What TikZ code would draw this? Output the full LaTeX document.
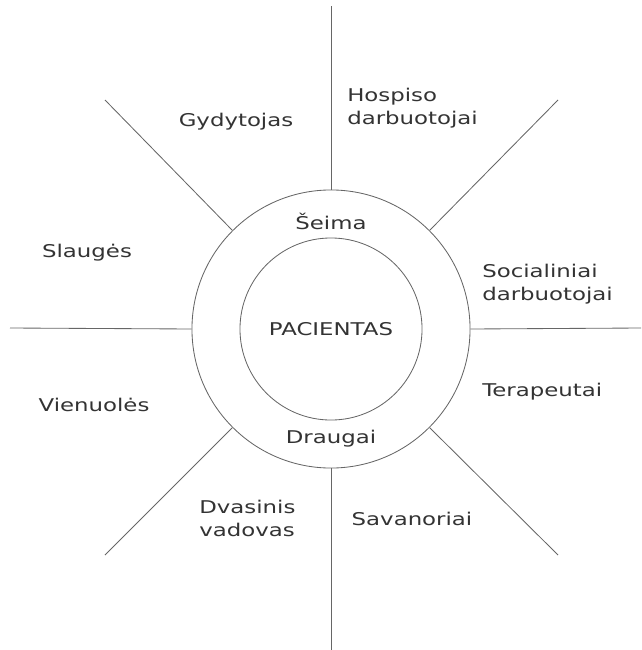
\documentclass[tikz,border=0pt]{standalone}
\usepackage{fontspec}
\setmainfont{DejaVu Sans}[FakeStretch=1.3]
\usepackage{tikz}
\usetikzlibrary{positioning}
\tikzset{
    ring/.style={circle, draw=black!60, line width=0.6pt, inner sep=0pt},
    ray/.style={draw=black!60, line width=0.6pt},
    role/.style={text=black!80, inner sep=0pt, font=\fontsize{12.5}{16.4}\selectfont},
    rolebox/.style={role, align=left, anchor=west},
}

\begin{document}
\begin{tikzpicture}[x=0.025cm, y=-0.025cm]
        \useasboundingbox (0,0) rectangle (641,650);
        % Circles
        \node[ring, minimum size=6.95cm] (outer) at (331,329) {};
        \node[ring, minimum size=4.55cm, role] (pac) at (331,329) {PACIENTAS};
        \node[role] (seima) at (331,221) {Šeima};
        \node[role] (draugai) at (331,439) {Draugai};

        % Ray ends
        \coordinate (top) at (331,6);
        \coordinate (ur) at (558,100);
        \coordinate (right) at (641,328);
        \coordinate (lr) at (558,555);
        \coordinate (bottom) at (331,650);
        \coordinate (ll) at (105,555);
        \coordinate (left) at (10,328);
        \coordinate (ul) at (105,100);

        % Rays
        \draw[ray] (outer.90) -- (top);
        \draw[ray] (outer.45) -- (ur);
        \draw[ray] (outer.0) -- (right);
        \draw[ray] (outer.-45) -- (lr);
        \draw[ray] (outer.-90) -- (bottom);
        \draw[ray] (outer.-135) -- (ll);
        \draw[ray] (outer.180) -- (left);
        \draw[ray] (outer.135) -- (ul);

        % Roles
        \node[role] (gyd) at (236,122) {Gydytojas};
        \node[rolebox] (hosp) at (347,108) {Hospiso\\darbuotojai};
        \node[rolebox] (soc) at (482,284) {Socialiniai\\darbuotojai};
        \node[role] (slaug) at (87,253) {Slaugės};
        \node[role] (vien) at (94,405) {Vienuolės};
        \node[rolebox] (ter) at (482,392) {Terapeutai};
        \node[rolebox] (dvas) at (199,518) {Dvasinis\\vadovas};
        \node[role] (sav) at (412,519) {Savanoriai};
\end{tikzpicture}
\end{document}
